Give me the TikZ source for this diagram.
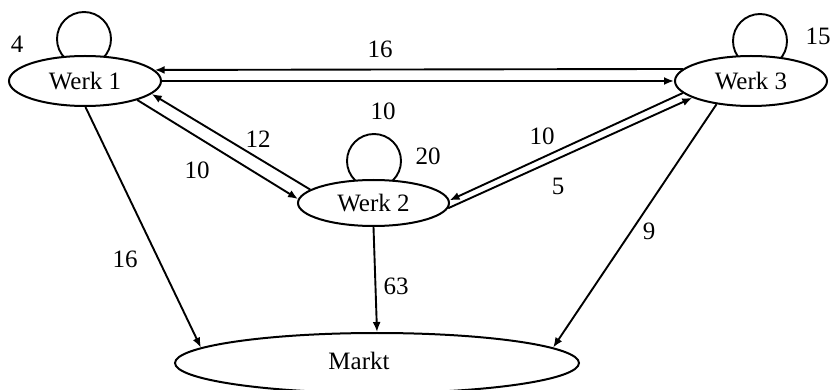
\documentclass[tikz,border=0pt]{standalone}
\usepackage{fontspec}
\setmainfont{Liberation Serif}
\usetikzlibrary{shapes.geometric,arrows.meta,backgrounds,calc}
\begin{document}
\begin{tikzpicture}[x=1pt,y=-1pt,
  werk/.style={ellipse,draw,fill=white,line width=2pt,inner sep=0pt,minimum width=152pt,minimum height=50pt,font=\fontsize{25}{30}\selectfont},
  lbl/.style={font=\fontsize{25}{30}\selectfont,inner sep=0pt},
  arr/.style={line width=1.9pt,-{Latex[length=10pt,width=8pt]}},
  selfloop/.style={line width=1.9pt}]
\useasboundingbox (0,0) rectangle (831,390);
\node[werk] (w1) at (85,81) {Werk 1};
\node[werk] (w3) at (751,81) {Werk 3};
\node[werk,minimum width=151pt,minimum height=46pt] (w2) at (373.5,203) {Werk 2};
\node[werk,minimum width=404pt,minimum height=60pt,label={[lbl,xshift=-18pt,yshift=2pt]center:Markt}] (m) at (377,363) {};
\begin{scope}[on background layer]
\draw[selfloop] ($(w1.north)+(-1,-16)$) circle[radius=27pt];
\draw[selfloop] ($(w3.north)+(9,-14)$) circle[radius=27pt];
\draw[selfloop] ($(w2.north)+(0.5,-18)$) circle[radius=27pt];
\end{scope}
\draw[arr] (w3.170.8) -- (w1.9.2);
\draw[arr] (w1.east) -- (w3.west);
\draw[arr] (w2.168.4) -- (w1.-11.8);
\draw[arr] (w1.-20.8) -- (w2.177.7);
\draw[arr] (w3.-170) -- (w2.2.3);
\draw[arr] (w2.-4) -- (w3.-164.8);
\draw[arr] (w1.-89) -- (m.175);
\draw[arr] (w2.south) -- (m.north);
\draw[arr] (w3.-146.3) -- (m.5.7);
\node[lbl] (l4) at (17,44) {4};
\node[lbl] (l16a) at (380,49) {16};
\node[lbl] (l15) at (818,36) {15};
\node[lbl] (l10a) at (383,111) {10};
\node[lbl] (l20) at (428,156) {20};
\node[lbl] (l12) at (258,139) {12};
\node[lbl] (l10b) at (197,170) {10};
\node[lbl] (l10c) at (542,136) {10};
\node[lbl] (l5) at (558,186) {5};
\node[lbl] (l16b) at (125,259) {16};
\node[lbl] (l9) at (649,231) {9};
\node[lbl] (l63) at (396,286) {63};
\end{tikzpicture}
\end{document}
